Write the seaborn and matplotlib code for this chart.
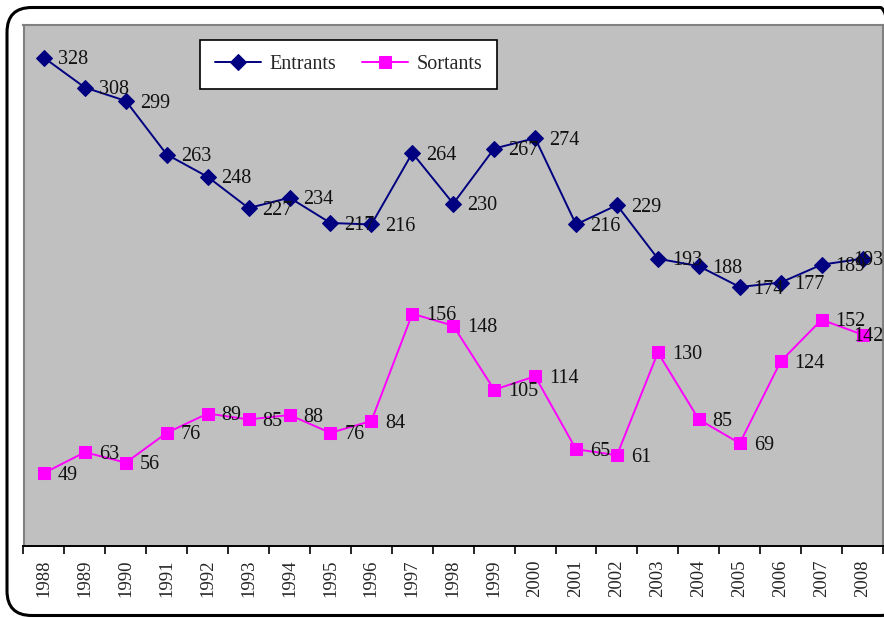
import matplotlib
matplotlib.use("Agg")
import matplotlib.pyplot as plt
import seaborn as sns
import pandas as pd
from matplotlib.patches import FancyBboxPatch
from matplotlib.ticker import FixedLocator

years = [str(y) for y in range(1988, 2009)]
entrants = [328, 308, 299, 263, 248, 227, 234, 217, 216, 264, 230, 267, 274,
            216, 229, 193, 188, 174, 177, 189, 193]
sortants = [49, 63, 56, 76, 89, 85, 88, 76, 84, 156, 148, 105, 114,
            65, 61, 130, 85, 69, 124, 152, 142]

sns.set_theme(style="white")
plt.rcParams['font.family'] = ['Liberation Serif', 'DejaVu Serif']

df = pd.DataFrame({"idx": range(len(years)), "Année": years,
                   "Entrants": entrants, "Sortants": sortants})

fig = plt.figure(figsize=(8.84, 6.18), dpi=100)
fig.patch.set_facecolor("white")

# rounded outer frame (right edge runs off the canvas, as in the reference)
frame = FancyBboxPatch((7 / 884, 2.5 / 618), (905 - 7) / 884, (608) / 618,
                       boxstyle="round,pad=0,rounding_size=0.028",
                       transform=fig.transFigure, fill=False,
                       edgecolor="black", linewidth=2.2, zorder=0,
                       mutation_aspect=884 / 618, clip_on=False)
fig.patches.append(frame)

ax = fig.add_axes([23.5 / 884, (618 - 546) / 618, (883 - 23.5) / 884, (546 - 25) / 618])
ax.set_facecolor("#C0C0C0")

sns.lineplot(data=df, x="idx", y="Entrants", ax=ax, color="#000080",
             marker="D", markersize=8, markeredgecolor="#000080",
             linewidth=1.4, label="Entrants")
sns.lineplot(data=df, x="idx", y="Sortants", ax=ax, color="#FF00FF",
             marker="s", markersize=8, markeredgecolor="#FF00FF",
             linewidth=1.4, label="Sortants")

n = len(years)
for series in (entrants, sortants):
    for i, v in enumerate(series):
        dx = 10 if i < n - 1 else -7
        ax.annotate(str(v), (i, v), xytext=(dx, -1.5), textcoords="offset points",
                    ha="left", va="center", fontsize=14.5, color="#111111",
                    annotation_clip=False)

ax.set_xlim(-0.5, n - 0.5)
ax.set_ylim(0, 350)
ax.set_xlabel("")
ax.set_ylabel("")
ax.set_yticks([])

ax.xaxis.set_major_locator(FixedLocator(list(range(n))))
ax.set_xticklabels(years, rotation=90, fontsize=13.5)
ax.xaxis.set_minor_locator(FixedLocator([i - 0.5 for i in range(n + 1)]))
ax.tick_params(axis="x", which="major", length=0, pad=10)
ax.tick_params(axis="x", which="minor", length=6, width=1.2, color="black",
               direction="out", bottom=True)

for side in ["left", "top", "right"]:
    ax.spines[side].set_color("#808080")
    ax.spines[side].set_linewidth(1.5)
ax.spines["bottom"].set_color("black")
ax.spines["bottom"].set_linewidth(1.4)

leg = ax.legend(loc="upper left", bbox_to_anchor=(0.205, 0.971), ncol=2,
                frameon=True, fancybox=False, edgecolor="black",
                facecolor="white", framealpha=1, fontsize=14.5,
                borderpad=0.75, columnspacing=1.3, handlelength=2.3,
                handletextpad=0.4, borderaxespad=0)
leg.get_frame().set_linewidth(1.2)

fig.savefig("out.png", dpi=100, facecolor="white")
